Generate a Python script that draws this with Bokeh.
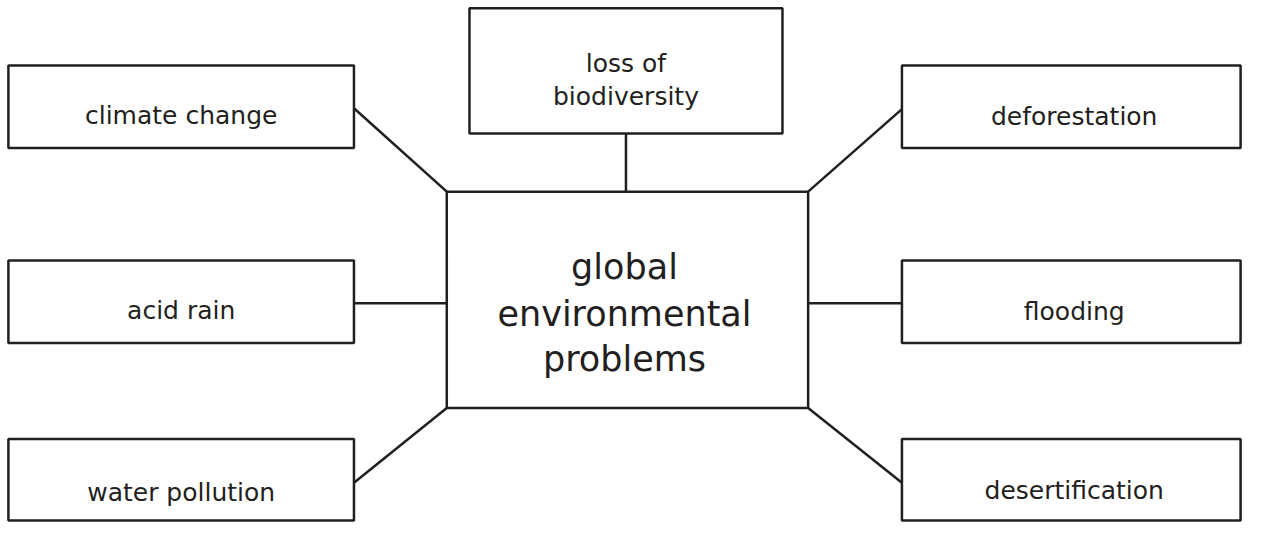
from bokeh.plotting import figure
from bokeh.models import Range1d
from bokeh.core.properties import value
from bokeh.embed import file_html
from bokeh.resources import INLINE

# ---- content ----
left_labels = ["climate change", "acid rain", "water pollution"]
right_labels = ["deforestation", "flooding", "desertification"]
top_label_lines = ["loss of", "biodiversity"]
center_lines = ["global", "environmental", "problems"]

INK = "#231f20"
FONT = value("DejaVu Sans")

p = figure(width=1247, height=522, output_backend="svg", toolbar_location=None,
           x_range=Range1d(0, 1263), y_range=Range1d(538, 0),
           min_border=0, background_fill_color="white", border_fill_color="white")
p.xaxis.visible = False
p.yaxis.visible = False
p.grid.visible = False
p.outline_line_color = None

# ---- layout ----
L_X0, L_X1 = 8, 358
R_X0, R_X1 = 913, 1256
side_tops = [67, 268, 452]
side_bots = [152, 353, 536]
left_base = [119, 320, 507]
right_base = [120, 321, 505]
T_X0, T_X1, T_Y0, T_Y1 = 475, 792, 8, 137
top_base = [65, 99]
C_X0, C_X1, C_Y0, C_Y1 = 452, 818, 197, 420
center_base = [275, 323, 370]

# connectors
x0 = [L_X1, (T_X0 + T_X1) / 2, R_X0, L_X1, C_X1, L_X1, C_X1]
y0 = [111, T_Y1, 112, 312, 312, 497, C_Y1]
x1 = [C_X0, (T_X0 + T_X1) / 2, C_X1, C_X0, R_X0, C_X0, R_X0]
y1 = [C_Y0, C_Y0, C_Y0, 312, 312, C_Y1, 497]
p.segment(x0=x0, y0=y0, x1=x1, y1=y1, line_color=INK, line_width=2.5)

# boxes
lefts = [L_X0] * 3 + [R_X0] * 3 + [T_X0, C_X0]
rights = [L_X1] * 3 + [R_X1] * 3 + [T_X1, C_X1]
tops = side_tops + side_tops + [T_Y0, C_Y0]
bots = side_bots + side_bots + [T_Y1, C_Y1]
p.quad(left=lefts, right=rights, top=tops, bottom=bots,
       fill_color="white", line_color=INK, line_width=2.5)

# texts
cxL = (L_X0 + L_X1) / 2
cxR = (R_X0 + R_X1) / 2 + 3
p.text(x=[cxL] * 3, y=left_base, text=left_labels, text_font=FONT,
       text_font_size="25px", text_color=INK, text_align="center",
       text_baseline="alphabetic")
p.text(x=[cxR] * 3, y=right_base, text=right_labels, text_font=FONT,
       text_font_size="25px", text_color=INK, text_align="center",
       text_baseline="alphabetic")
p.text(x=[(T_X0 + T_X1) / 2] * 2, y=top_base, text=top_label_lines, text_font=FONT,
       text_font_size="25px", text_color=INK, text_align="center",
       text_baseline="alphabetic")
p.text(x=[(C_X0 + C_X1) / 2 - 3] * 3, y=center_base, text=center_lines, text_font=FONT,
       text_font_size="35px", text_color=INK, text_align="center",
       text_baseline="alphabetic")

open("out.html", "w").write(file_html(p, INLINE))
